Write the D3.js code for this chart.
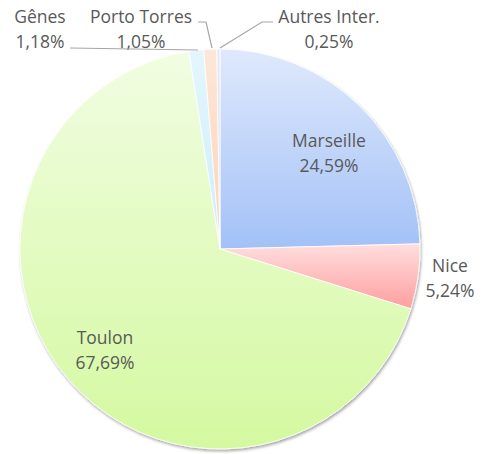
<!DOCTYPE html>
<html><head><meta charset="utf-8">
<script src="https://cdn.jsdelivr.net/npm/d3@7"></script>
<style>body{margin:0;background:#fff}svg{display:block}</style>
</head><body>
<script>
const categories = ["Marseille","Nice","Toulon","Gênes","Porto Torres","Autres Inter."];
const values = [24.59, 5.24, 67.69, 1.18, 1.05, 0.25];
const labels = ["24,59%","5,24%","67,69%","1,18%","1,05%","0,25%"];
const colTop = ["#dfe9fc","#ffdede","#f1fde2","#e3f6fd","#fde7d8","#e6e9f5"];
const colBot = ["#a3c1f7","#ff9e9e","#d4f9a0","#cdeefa","#fbd3b6","#cfd4ea"];

const W=494,H=454,cx=220,cy=249,R=200;
const svg=d3.select("body").append("svg").attr("width",W).attr("height",H);
const defs=svg.append("defs");
categories.forEach((c,i)=>{
  const g=defs.append("linearGradient").attr("id","g"+i).attr("x1",0).attr("y1",0).attr("x2",0).attr("y2",1);
  g.append("stop").attr("offset",0).attr("stop-color",colTop[i]);
  g.append("stop").attr("offset",1).attr("stop-color",colBot[i]);
});
const f=defs.append("filter").attr("id","sh").attr("x","-10%").attr("y","-10%").attr("width","120%").attr("height","120%");
f.append("feGaussianBlur").attr("in","SourceAlpha").attr("stdDeviation",1.5);
f.append("feOffset").attr("dx",1).attr("dy",1.5).attr("result","b");
f.append("feComponentTransfer").append("feFuncA").attr("type","linear").attr("slope",0.35);
const m=f.append("feMerge");m.append("feMergeNode");m.append("feMergeNode").attr("in","SourceGraphic");

const pie=d3.pie().sort(null).value(d=>d)(values);
const arc=d3.arc().innerRadius(0).outerRadius(R);
const g=svg.append("g").attr("transform",`translate(${cx},${cy})`);
g.append("g").attr("filter","url(#sh)").selectAll("path").data(pie).join("path")
  .attr("d",arc).attr("fill",(d,i)=>`url(#g${i})`)
  .attr("stroke","#ffffff").attr("stroke-width",0.8);

const font="'Open Sans', 'Liberation Sans', sans-serif";
const labPos=[[329,147],[450,272],[105,344],[40,23],[141,23],[329,23]];
categories.forEach((c,i)=>{
  const t=svg.append("text").attr("font-family",font).attr("font-size",17.5).attr("fill","#595959").attr("text-anchor","middle");
  t.append("tspan").attr("x",labPos[i][0]).attr("y",labPos[i][1]).text(c);
  t.append("tspan").attr("x",labPos[i][0]).attr("y",labPos[i][1]+25).text(labels[i]);
});
// leader lines
const ll=[
  [[70,48],[198,50]],
  [[198,22],[206,22],[212,48]],
  [[273,22],[262,22],[220,48]]
];
ll.forEach(p=>svg.append("path").attr("d",d3.line()(p)).attr("fill","none").attr("stroke","#a6a6a6").attr("stroke-width",1.2));
</script>
</body></html>
